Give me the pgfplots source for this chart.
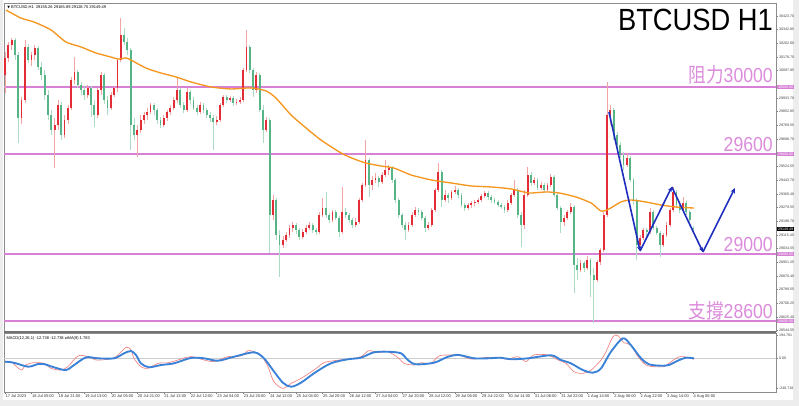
\documentclass[border=0pt]{standalone}
\usepackage{pgfplots}
\pgfplotsset{compat=1.18}
\usepackage{pgfplotstable}
\usetikzlibrary{arrows.meta}
\usepackage{fontspec}
\setmainfont{Liberation Sans}
\newfontfamily\lbl[FakeStretch=0.87]{Liberation Sans}
\newfontfamily\cjk[FakeStretch=0.87]{Noto Sans CJK TC}
\newfontfamily\ttl[FakeStretch=0.89]{Liberation Sans}
\newfontfamily\dv{DejaVu Sans}
\definecolor{cup}{RGB}{226,45,55}
\definecolor{cupw}{RGB}{242,165,165}
\definecolor{cdn}{RGB}{86,180,134}
\definecolor{cdnw}{RGB}{172,220,196}
\definecolor{ma}{RGB}{245,150,30}
\definecolor{lvl}{RGB}{214,128,214}
\definecolor{lvltxt}{RGB}{220,140,220}
\definecolor{zig}{RGB}{30,45,190}
\definecolor{macdb}{RGB}{58,130,215}
\definecolor{macdr}{RGB}{240,120,120}

\pgfplotstableread{
k o h l c
0 30072 30209 29964 30173
1 30173 30269 30149 30251
2 30251 30293 30221 30281
3 30281 30293 30161 30191
4 30191 30209 29665 29814
5 29814 29940 29779 29922
6 29922 30281 29904 30239
7 30239 30257 30143 30161
8 30161 30209 30125 30191
9 30191 30251 30161 30233
10 30233 30245 30101 30119
11 30119 30149 30042 30072
12 30072 30101 29922 29952
13 29952 29982 29802 29832
14 29832 29862 29713 29743
15 29743 29814 29515 29773
16 29773 29922 29743 29892
17 29892 29910 29683 29713
18 29713 29832 29695 29802
19 29802 29892 29779 29874
20 29874 30060 29862 30042
21 30042 30179 30018 30089
22 30089 30101 29994 30012
23 30012 30030 29952 29982
24 29982 30006 29922 29952
25 29952 30012 29934 29994
26 29994 30006 29820 29892
27 29892 29922 29761 29832
28 29832 29994 29814 29982
29 29982 30089 29952 30072
30 30072 30083 29898 29922
31 29922 29946 29832 29874
32 29874 29970 29862 29952
33 29952 30000 29940 29994
34 29994 30173 29970 30161
35 30161 30412 30149 30311
36 30311 30353 30251 30269
37 30269 30293 30191 30221
38 30221 30233 29623 29773
39 29773 29814 29683 29713
40 29713 29773 29581 29743
41 29743 29832 29725 29802
42 29802 29850 29779 29832
43 29832 29874 29802 29850
44 29850 29904 29838 29892
45 29892 29904 29832 29862
46 29862 29874 29779 29802
47 29802 29820 29755 29773
48 29773 29832 29761 29814
49 29814 29862 29796 29850
50 29850 29892 29832 29874
51 29874 29940 29862 29922
52 29922 30060 29904 29982
53 29982 29994 29874 29892
54 29892 29910 29844 29862
55 29862 29994 29850 29970
56 29970 29982 29898 29922
57 29922 29940 29862 29874
58 29874 29892 29832 29850
59 29850 29910 29838 29892
60 29892 29904 29844 29862
61 29862 29874 29814 29832
62 29832 29850 29790 29814
63 29814 29832 29623 29790
64 29790 29826 29773 29802
65 29802 29904 29790 29892
66 29892 29952 29880 29940
67 29940 29952 29904 29922
68 29922 29946 29910 29934
69 29934 29946 29886 29904
70 29904 29928 29892 29910
71 29910 29940 29898 29922
72 29922 30113 29910 30101
73 30101 30341 30089 30239
74 30239 30251 30083 30101
75 30101 30113 29940 29982
76 29982 30089 29964 30072
77 30072 30083 29850 29862
78 29862 29892 29665 29743
79 29743 29820 29731 29802
80 29802 29814 29007 29234
81 29234 29354 29204 29324
82 29324 29336 29085 29115
83 29115 29145 28864 29055
84 29055 29109 29037 29085
85 29085 29133 29073 29115
86 29115 29175 29097 29157
87 29157 29192 29133 29175
88 29175 29186 29121 29145
89 29145 29157 29085 29103
90 29103 29151 29091 29133
91 29133 29175 29121 29157
92 29157 29192 29145 29175
93 29175 29186 29127 29145
94 29145 29157 29115 29133
95 29133 29252 29121 29234
96 29234 29336 29222 29276
97 29276 29372 29216 29234
98 29234 29246 29186 29204
99 29204 29264 29192 29252
100 29252 29264 29204 29216
101 29216 29228 29103 29133
102 29133 29402 29121 29252
103 29252 29276 29216 29234
104 29234 29246 29186 29204
105 29204 29216 29157 29175
106 29175 29216 29163 29192
107 29192 29336 29180 29324
108 29324 29426 29312 29414
109 29414 29683 29402 29563
110 29563 29575 29342 29414
111 29414 29468 29384 29444
112 29444 29485 29426 29456
113 29456 29468 29402 29432
114 29432 29491 29420 29474
115 29474 29563 29462 29503
116 29503 29533 29474 29515
117 29515 29527 29426 29444
118 29444 29456 29306 29324
119 29324 29336 29216 29234
120 29234 29246 29157 29175
121 29175 29192 29085 29145
122 29145 29192 29133 29175
123 29175 29252 29163 29234
124 29234 29282 29222 29264
125 29264 29276 29234 29252
126 29252 29264 29204 29216
127 29216 29228 29133 29157
128 29157 29192 29145 29175
129 29175 29276 29163 29264
130 29264 29396 29252 29384
131 29384 29545 29372 29491
132 29491 29503 29282 29324
133 29324 29384 29312 29354
134 29354 29366 29306 29336
135 29336 29384 29324 29372
136 29372 29408 29360 29384
137 29384 29396 29336 29354
138 29354 29366 29282 29294
139 29294 29306 29258 29276
140 29276 29306 29264 29294
141 29294 29318 29276 29306
142 29306 29324 29288 29312
143 29312 29336 29300 29324
144 29324 29360 29312 29348
145 29348 29378 29336 29366
146 29366 29378 29324 29342
147 29342 29354 29306 29324
148 29324 29336 29300 29312
149 29312 29324 29282 29294
150 29294 29306 29270 29282
151 29282 29294 29246 29264
152 29264 29324 29252 29306
153 29306 29366 29294 29354
154 29354 29444 29342 29384
155 29384 29396 29216 29234
156 29234 29252 29043 29175
157 29175 29384 29151 29354
158 29354 29521 29342 29474
159 29474 29491 29408 29426
160 29426 29462 29414 29444
161 29444 29456 29384 29396
162 29396 29432 29384 29414
163 29414 29426 29366 29384
164 29384 29426 29372 29414
165 29414 29479 29402 29462
166 29462 29474 29342 29354
167 29354 29366 29264 29276
168 29276 29288 29127 29192
169 29192 29234 29169 29216
170 29216 29264 29204 29252
171 29252 29306 29240 29282
172 29282 29294 28768 28935
173 28935 28977 28846 28906
174 28906 28965 28894 28947
175 28947 28959 28894 28917
176 28917 28989 28906 28965
177 28965 28977 28744 28876
178 28876 28917 28589 28846
179 28846 28965 28834 28953
180 28953 29037 28935 29025
181 29025 29252 29013 29234
182 29234 30030 29222 29832
183 29832 29892 29773 29862
184 29862 29874 29683 29713
185 29713 29731 29623 29653
186 29653 29671 29575 29593
187 29593 29611 29503 29533
188 29533 29605 29521 29575
189 29575 29587 29432 29444
190 29444 29456 29294 29324
191 29324 29336 28965 29055
192 29055 29115 29037 29097
193 29097 29157 29085 29145
194 29145 29157 29109 29133
195 29133 29276 29121 29252
196 29252 29264 29145 29157
197 29157 29169 29115 29127
198 29127 29139 28983 29055
199 29055 29127 29043 29115
200 29115 29192 29103 29175
201 29175 29276 29163 29264
202 29264 29402 29252 29372
203 29372 29384 29282 29294
204 29294 29306 29246 29264
205 29264 29342 29252 29306
206 29306 29318 29234 29252
207 29252 29264 29192 29204
208 29155 29166 29129 29149
}\candles

\pgfplotsset{candle/.style={draw=none, mark=none, forget plot,
  error bars/y dir=plus, error bars/y explicit, error bars/error mark=none}}

\begin{document}
\begin{tikzpicture}
\path[use as bounding box, fill=black!7] (0,0) rectangle (599.25pt,304.5pt);
\fill[white] (2pt,4.5pt) rectangle (595pt,304.5pt);

\begin{axis}[name=main, at={(3pt,56.25pt)}, anchor=south west, scale only axis,
  width=579pt, height=246pt,
  xmin=-0.3, xmax=233.1, ymin=28540.6, ymax=30502,
  axis line style={draw=black!45, line width=0.5pt},
  xtick=\empty, scaled y ticks=false,
  ytick={30423.70,30342.85,30262.00,30178.70,30097.85,29933.70,29852.85,29769.55,29688.70,29524.55,29443.70,29360.40,29279.55,29198.70,29115.40,29034.55,28951.25,28870.40,28789.55,28706.25,28625.40,28544.55},
  yticklabels={30423.70,30342.85,30262.00,30178.70,30097.85,29933.70,29852.85,29769.55,29688.70,29524.55,29443.70,29360.40,29279.55,29198.70,29115.40,29034.55,28951.25,28870.40,28789.55,28706.25,28625.40,28544.55},
  ytick pos=right, yticklabel pos=right, tick align=outside,
  major tick length=1.5pt, tick style={black!50, line width=0.3pt},
  yticklabel style={font=\fontsize{2.7}{3}\selectfont, text=black!75, inner sep=0.6pt},
  unbounded coords=discard]

% level lines
\addplot[lvl, line width=1.1pt] coordinates {(-0.3,30000)(233.1,30000)};
\addplot[lvl, line width=1.1pt] coordinates {(-0.3,29600)(233.1,29600)};
\addplot[lvl, line width=1.1pt] coordinates {(-0.3,29000)(233.1,29000)};
\addplot[lvl, line width=1.1pt] coordinates {(-0.3,28600)(233.1,28600)};

% wicks
\addplot[candle, restrict expr to domain={\thisrow{c}-\thisrow{o}}{0:100000},
  error bars/error bar style={draw=cupw, line width=0.4pt}]
  table[x=k, y=l, y error expr=\thisrow{h}-\thisrow{l}] {\candles};
\addplot[candle, restrict expr to domain={\thisrow{c}-\thisrow{o}}{-100000:-0.001},
  error bars/error bar style={draw=cdnw, line width=0.4pt}]
  table[x=k, y=l, y error expr=\thisrow{h}-\thisrow{l}] {\candles};
% bodies
\addplot[candle, restrict expr to domain={\thisrow{c}-\thisrow{o}}{0:100000},
  error bars/error bar style={draw=cup, line width=1.35pt}]
  table[x=k, y=o, y error expr=\thisrow{c}-\thisrow{o}] {\candles};
\addplot[candle, restrict expr to domain={\thisrow{c}-\thisrow{o}}{-100000:-0.001},
  error bars/error bar style={draw=cdn, line width=1.35pt}]
  table[x=k, y=c, y error expr=\thisrow{o}-\thisrow{c}] {\candles};

% moving average
\addplot[ma, line width=1pt, smooth, tension=0.4] coordinates {
(0.3,30460)(4.8,30412)(8.8,30388)(13.9,30341)(18.4,30269)(23,30239)(27.5,30203)(32,30179)(34.2,30167)(36.6,30173)(38.1,30161)(42.6,30113)(47.2,30083)(51.7,30060)(56.2,30030)(62.3,30000)(68.3,29988)(74.4,29994)(78.9,29976)(81.9,29934)(86.5,29832)(91,29755)(95.5,29683)(101.6,29605)(105.2,29572)(109.1,29545)(113.7,29527)(117.6,29515)(122.7,29474)(128.8,29444)(134.8,29426)(140.9,29408)(146.9,29402)(153,29390)(158.4,29366)(163.5,29372)(167.5,29366)(172.6,29342)(177.2,29306)(180.2,29258)(182.6,29270)(186.2,29312)(189.2,29324)(193.8,29312)(198.3,29294)(202.8,29282)(208.3,29276)};

% projected path
\addplot[zig, line width=1.2pt, -{Stealth[length=3.5pt,width=3.2pt]}] coordinates {(182.6,29850)(192.0,29019)};
\addplot[zig, line width=1.2pt, -{Stealth[length=3.5pt,width=3.2pt]}] coordinates {(192.0,29019)(201.6,29402)};
\addplot[zig, line width=1.2pt, -{Stealth[length=3.5pt,width=3.2pt]}] coordinates {(201.6,29402)(211.0,29013)};
\addplot[zig, line width=1.2pt, -{Stealth[length=4pt,width=3.6pt]}] coordinates {(211.0,29013)(220.7,29396)};

% labels
\node[anchor=base east, text=lvltxt, inner sep=0pt] at (axis cs:232.2,30026) {\fontsize{15.2}{16}\selectfont\cjk 阻力\lbl 30000};
\node[anchor=base east, text=lvltxt, inner sep=0pt] at (axis cs:232.2,29615) {\fontsize{15.2}{16}\selectfont\lbl 29600};
\node[anchor=base east, text=lvltxt, inner sep=0pt] at (axis cs:232.2,29015) {\fontsize{15.2}{16}\selectfont\lbl 29000};
\node[anchor=base east, text=lvltxt, inner sep=0pt] at (axis cs:232.2,28617) {\fontsize{15.2}{16}\selectfont\cjk 支撐\lbl 28600};
\node[anchor=base east, inner sep=0pt] at (axis cs:232.2,30335) {\fontsize{23}{24}\selectfont\ttl BTCUSD H1};
\node[anchor=north west, inner sep=0pt, font=\fontsize{3}{3.5}\selectfont] at (axis description cs:0.004,0.993) {{\dv\fontsize{2.6}{3}\selectfont ▼} BTCUSD,H1 \ 29155.26 29165.89 29128.70 29149.49};

\coordinate (r30000) at (axis cs:233.1,30000);
\coordinate (r29600) at (axis cs:233.1,29600);
\coordinate (r29000) at (axis cs:233.1,29000);
\coordinate (r28600) at (axis cs:233.1,28600);
\coordinate (rclose) at (axis cs:233.1,29149.49);
\end{axis}

\foreach \c/\t in {r30000/30000.00, r29600/29600.00, r29000/29000.00, r28600/28600.00}
  \node[anchor=west, fill=lvl, text=white, inner xsep=0.8pt, inner ysep=0.4pt, xshift=0.6pt, font=\fontsize{2.7}{3}\selectfont] at (\c) {\t};
\node[anchor=west, fill=black, text=white, inner xsep=0.8pt, inner ysep=0.4pt, xshift=0.6pt, font=\fontsize{2.7}{3}\selectfont] at (rclose) {29149.49};

\fill[black!55] (3pt,54.8pt) rectangle (582pt,56.25pt);

\begin{axis}[name=macd, at={(3pt,10.5pt)}, anchor=south west, scale only axis,
  width=579pt, height=44.25pt,
  xmin=-0.3, xmax=233.1, ymin=-282, ymax=212,
  axis line style={draw=black!45, line width=0.5pt},
  ytick={194.781,0,-248.718}, yticklabels={194.781,0.00,-248.718},
  ytick pos=right, yticklabel pos=right, tick align=outside,
  xtick={0,8,...,208},
  xticklabels={17 Jul 2023,18 Jul 05:00,18 Jul 21:00,19 Jul 13:00,20 Jul 05:00,20 Jul 21:00,21 Jul 13:00,22 Jul 12:00,23 Jul 04:00,23 Jul 20:00,24 Jul 12:00,25 Jul 04:00,25 Jul 20:00,26 Jul 12:00,27 Jul 04:00,27 Jul 20:00,28 Jul 12:00,29 Jul 06:00,29 Jul 22:00,30 Jul 14:00,31 Jul 06:00,31 Jul 22:00,1 Aug 14:00,2 Aug 06:00,2 Aug 22:00,3 Aug 14:00,4 Aug 06:00},
  xtick pos=bottom, major tick length=1.5pt, tick style={black!50, line width=0.3pt},
  xticklabel style={anchor=north west, font=\fontsize{3}{3.5}\selectfont, text=black!80, inner sep=0.6pt, xshift=-0.3pt},
  yticklabel style={font=\fontsize{2.7}{3}\selectfont, text=black!75, inner sep=0.6pt}]
\addplot[black!20, line width=0.4pt] coordinates {(-0.3,0)(233.1,0)};
\addplot[macdr, line width=0.45pt, smooth, tension=0.5] coordinates {
(0,-37)(1.8,-28)(4.8,-98)(6.3,-56)(8.5,-37)(11.8,-42)(13.9,-84)(16.9,-98)(19,-70)(22.1,20)(25.1,14)(27.5,-14)(31.1,-8)(33.6,14)(36.6,92)(38.1,70)(39,0)(41.1,-70)(43.2,-84)(46.3,-42)(49.3,-37)(52.3,-14)(56.2,14)(60.2,-14)(63.2,-28)(67.4,14)(71.3,20)(73.5,64)(75.3,55)(77.4,28)(79.5,-70)(81.3,-196)(84,-252)(86.5,-210)(89.5,-168)(93.4,-98)(96.4,-37)(99.5,-20)(103.7,-6)(107.6,14)(110,64)(112.8,47)(115.8,55)(119.1,0)(120.6,-42)(123.6,-56)(125.8,-37)(128.8,-42)(131.2,20)(134.8,28)(137.8,22)(140.9,-6)(144.8,5)(149,8)(152,-8)(155.1,14)(157.5,-28)(159.9,28)(164.1,28)(167.2,-14)(169.6,-42)(172,-112)(174.7,-126)(177.2,-98)(180.2,-14)(181.7,55)(183.8,181)(185.3,190)(187.1,131)(189.2,111)(191.4,14)(193.8,-56)(196.2,-70)(199.2,-70)(200.7,-42)(203.4,8)(205.3,14)(208.3,-8)};
\addplot[macdb, line width=1.4pt, smooth, tension=0.5] coordinates {
(0,-28)(2.7,-37)(7,-70)(10,-48)(11.8,-48)(14.8,-75)(18.4,-98)(20.9,-56)(24.5,8)(28.1,0)(33,0)(36,42)(38.1,61)(39.6,28)(41.1,-42)(43.5,-75)(47.2,-56)(51.1,-42)(56.2,3)(60.2,0)(64.4,-20)(69.2,13)(75.3,50)(78.3,0)(81,-98)(84,-204)(86.5,-238)(89.5,-204)(93.4,-126)(98.5,-42)(103.7,-8)(107.6,5)(111.5,50)(115.8,55)(119.7,42)(121.8,-14)(124.2,-50)(129.7,-37)(133.9,13)(137.2,28)(141.8,0)(146,0)(149.9,5)(153,-8)(158.1,0)(165.1,25)(168.1,-14)(171.1,-42)(174.7,-98)(177.8,-120)(180.2,-84)(183.2,55)(186.8,167)(189.2,111)(192.3,0)(194.7,-50)(198.3,-62)(200.7,-56)(203.4,-20)(205.8,5)(208.3,0)};
\node[anchor=north west, inner sep=0pt, font=\fontsize{3}{3.5}\selectfont] at (axis description cs:0.003,0.94) {MACD(12,26,1) -12.738 -12.738 wMA(9) 1.783};
\end{axis}
\end{tikzpicture}
\end{document}
